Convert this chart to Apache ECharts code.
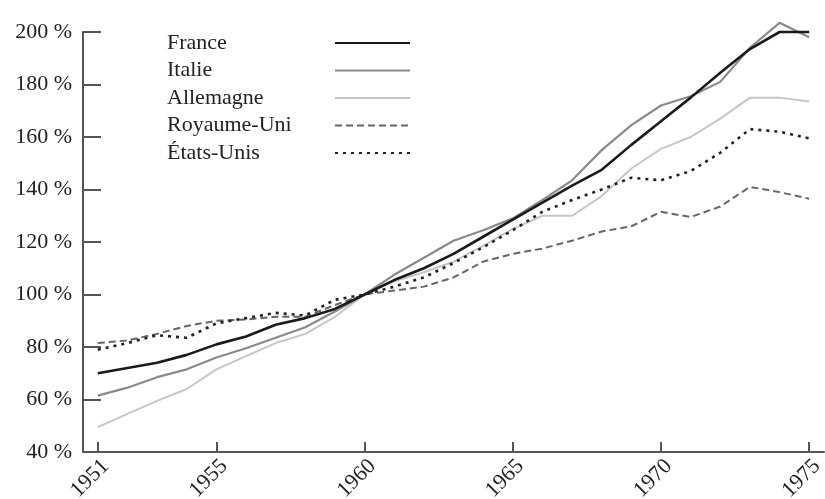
<!DOCTYPE html>
<html>
<head>
<meta charset="utf-8">
<script src="https://cdn.jsdelivr.net/npm/echarts@6/dist/echarts.min.js"></script>
<style>
html,body{margin:0;padding:0;background:#fff;}
#chart{width:825px;height:499px;}
</style>
</head>
<body>
<div id="chart"></div>
<script>
const years = [1951,1952,1953,1954,1955,1956,1957,1958,1959,1960,1961,1962,1963,1964,1965,1966,1967,1968,1969,1970,1971,1972,1973,1974,1975];
const france    = [70, 72, 74, 77, 81, 84, 88.5, 91, 94.5, 100, 105.5, 110, 115.5, 122, 128.5, 135, 141.5, 147.5, 157, 166, 175, 184.5, 193.5, 200, 200];
const italie    = [61.5, 64.5, 68.5, 71.5, 76, 79.5, 83.5, 87.5, 93.5, 100, 107.5, 114, 120.5, 124.5, 129, 136, 143.5, 155, 164.5, 172, 175.5, 181, 194, 203.5, 198];
const allemagne = [49.5, 54.5, 59.5, 64, 71.5, 76.5, 81.5, 85, 91.5, 100, 105, 108.5, 112.5, 118.5, 125, 130, 130, 137.5, 148, 155.5, 160, 167, 175, 175, 173.5];
const royaumeUni= [81.5, 82.5, 85, 88, 90, 90.5, 91.5, 91.5, 96, 100, 101.5, 103, 106.5, 112.5, 115.5, 117.5, 120.5, 124, 126, 131.5, 129.5, 133.5, 141, 139, 136.5];
const etatsUnis = [79, 81.5, 84.5, 83.5, 89, 91, 93, 92, 98, 100, 103, 106.5, 112, 118, 124.5, 131.5, 136, 140, 144.5, 143.5, 147, 154, 163, 162, 159.5];
const xTickYears = [1951, 1955, 1960, 1965, 1970, 1975];
const seriesNames = ['France', 'Italie', 'Allemagne', 'Royaume-Uni', 'États-Unis'];

const FONT = '"Liberation Serif", "DejaVu Serif", serif';
const pairs = arr => arr.map((v, i) => [years[i], v]);

const chart = echarts.init(document.getElementById('chart'), null, {renderer: 'canvas'});
chart.setOption({
  animation: false,
  backgroundColor: '#fff',
  grid: {left: 83, right: 1, top: 32, bottom: 47, containLabel: false, outerBoundsMode: 'none'},
  legend: {
    orient: 'vertical',
    left: 162,
    top: 27,
    align: 'right',
    itemWidth: 75,
    itemHeight: 14,
    itemGap: 5.5,
    data: seriesNames,
    itemStyle: {opacity: 0, borderWidth: 0},
    formatter: name => '{a|' + name + '}',
    textStyle: {
      fontFamily: FONT, fontSize: 22, color: '#222',
      rich: {a: {fontFamily: FONT, fontSize: 22, color: '#222', width: 163, lineHeight: 24, align: 'left'}}
    }
  },
  xAxis: {
    type: 'value',
    min: 1950.5,
    max: 1975.5,
    splitLine: {show: false},
    axisLine: {show: true, onZero: false, lineStyle: {color: '#555', width: 2}},
    axisTick: {show: true, inside: true, length: 10, customValues: xTickYears, lineStyle: {color: '#555', width: 2}},
    axisLabel: {
      customValues: xTickYears,
      rotate: 45,
      margin: 3,
      verticalAlign: 'top',
      fontFamily: FONT, fontSize: 22, color: '#222',
      formatter: v => String(v)
    }
  },
  yAxis: {
    type: 'value',
    min: 40,
    max: 200,
    interval: 20,
    splitLine: {show: false},
    axisLine: {show: true, lineStyle: {color: '#555', width: 2}},
    axisTick: {show: true, inside: true, length: 18, lineStyle: {color: '#555', width: 2}},
    axisLabel: {
      margin: 11,
      fontFamily: FONT, fontSize: 22, color: '#222',
      formatter: v => v + ' %'
    }
  },
  series: [
    {name: 'Italie', type: 'line', symbol: 'none', clip: false, data: pairs(italie), z: 2,
     lineStyle: {color: '#8a8a8a', width: 2.2}, itemStyle: {color: '#8a8a8a'}},
    {name: 'Allemagne', type: 'line', symbol: 'none', clip: false, data: pairs(allemagne), z: 1,
     lineStyle: {color: '#c6c6c6', width: 2}, itemStyle: {color: '#c6c6c6'}},
    {name: 'Royaume-Uni', type: 'line', symbol: 'none', clip: false, data: pairs(royaumeUni), z: 3,
     lineStyle: {color: '#666', width: 2, type: [7, 4]}, itemStyle: {color: '#666'}},
    {name: 'États-Unis', type: 'line', symbol: 'none', clip: false, data: pairs(etatsUnis), z: 4,
     lineStyle: {color: '#222', width: 2.6, type: [3, 5]}, itemStyle: {color: '#222'}},
    {name: 'France', type: 'line', symbol: 'none', clip: false, data: pairs(france), z: 5,
     lineStyle: {color: '#1a1a1a', width: 2.6}, itemStyle: {color: '#1a1a1a'}}
  ]
});
</script>
</body>
</html>
